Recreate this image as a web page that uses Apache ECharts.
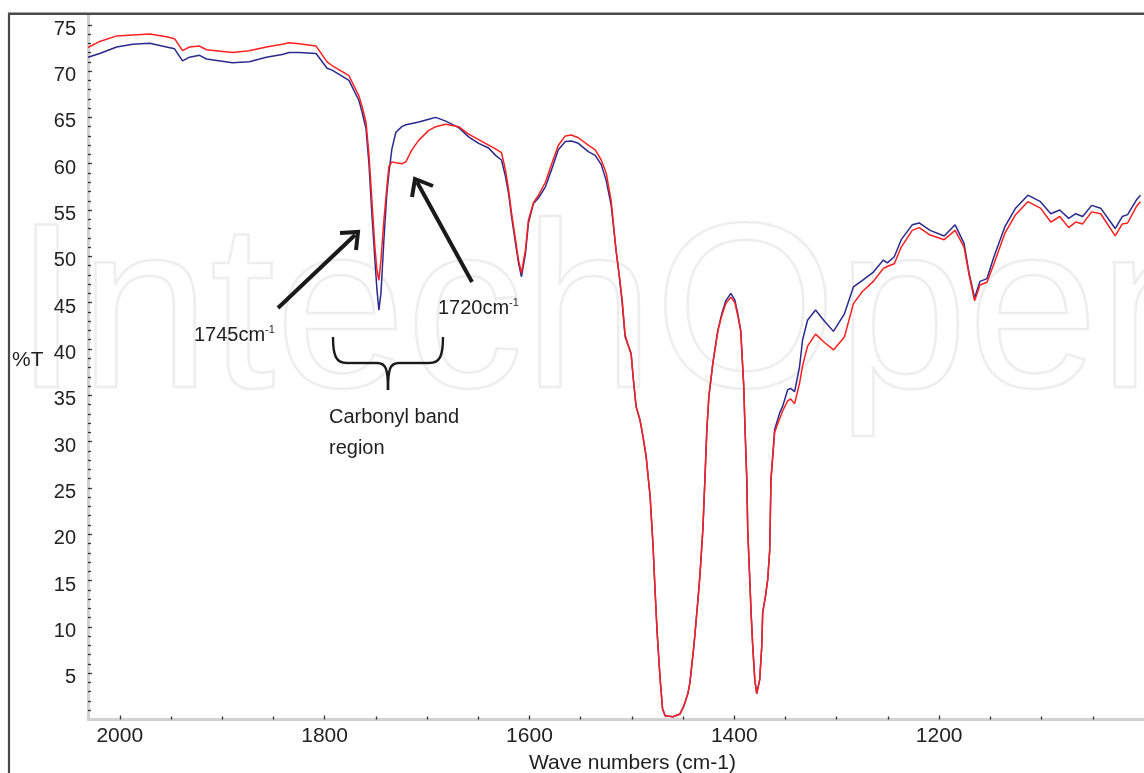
<!DOCTYPE html>
<html>
<head>
<meta charset="utf-8">
<script src="https://cdn.jsdelivr.net/npm/echarts@6/dist/echarts.min.js"></script>
<style>
html,body{margin:0;padding:0;background:#fff;}
#c{width:1144px;height:773px;}
</style>
</head>
<body>
<div id="c"></div>
<script>
// Wave numbers (cm-1), descending
const wavenumbers = [
 2031,2019.5,2003,1987.3,1970.8,1954.3,1946.5,1938.7,1931.9,1922.1,1915.3,1890,1873.5,1856.9,1841.4,1834.6,1824.8,1808.3,1797.6,1792.7,
 1776.2,1766.4,1763.5,1759.6,1756.7,1753.8,1750.9,1748.9,1747.0,1745.0,1742.1,1739.2,1737.2,1734.3,1730.4,1724.6,1720.7,1714.8,1708.0,1698.3,
 1691.5,1681.7,1669.1,1659.4,1649.6,1639.9,1633.1,1627.3,1623.4,1620.4,1617.5,1613.6,1610.7,1607.8,1603.9,1601.0,1596.1,1591.2,1584.4,1578.6,
 1571.8,1565.0,1559.1,1552.3,1542.6,1535.8,1529.9,1525.1,1520.2,1515.3,1512.4,1509.5,1506.6,1503.6,1500.7,1498.8,1495.9,1492.0,1489.1,1486.1,
 1482.2,1479.3,1477.4,1475.4,1472.5,1470.1,1467.6,1459.9,1453.0,1449.1,1445.3,1443.3,1439.4,1435.5,1433.6,1430.7,1428.7,1426.8,1424.8,1420.9,
 1416.1,1412.2,1408.3,1403.4,1399.5,1396.6,1393.7,1390.8,1389.5,1387.8,1386.9,1384.9,1383.6,1382.0,1380.0,1378.1,1375.2,1373.2,1372.3,1369.3,
 1367.4,1365.4,1364.2,1360.6,1355.7,1352.8,1347.9,1345.0,1341.1,1336.3,1333.3,1328.5,1320.7,1311.9,1303.2,1292.5,1283.7,1274.9,1264.2,1254.5,
 1250.6,1243.8,1237.0,1226.3,1219.5,1208.8,1195.1,1184.4,1175.7,1170.8,1165.4,1160.1,1153.3,1146.5,1135.8,1125.4,1113.4,1101.1,1091.0,1082.2,
 1073.5,1066.7,1059.9,1051.1,1042.3,1028.1,1021.2,1016.0,1007.3,1003.4
];
// %T, blue trace
const sampleBlue = [
 71.5,71.9,72.6,72.9,73.0,72.6,72.4,71.1,71.5,71.7,71.3,70.9,71.0,71.5,71.8,72.0,72.0,71.9,70.3,70.1,
 69.0,66.8,65.6,63.8,60.0,54.5,49.6,46.4,44.2,46.0,51.8,56.8,59.0,61.6,63.4,64.0,64.2,64.35,64.5,64.8,
 65.0,64.6,63.9,62.9,62.2,61.7,60.9,60.4,58.6,56.8,54.3,51.4,49.3,47.8,50.3,53.6,55.7,56.3,57.5,59.3,
 61.5,62.4,62.45,62.2,61.3,60.9,59.9,58.2,55.5,50.5,48.0,45.0,41.3,40.4,39.5,37.0,33.8,32.3,30.5,28.4,
 24.1,18.7,14.0,9.5,4.5,1.2,0.4,0.3,0.6,1.5,2.8,4.0,8.0,12.9,15.5,20.5,25.9,31.3,34.9,38.5,
 42.0,43.8,45.2,46.0,45.3,43.8,42.0,36.0,31.3,25.9,20.5,15.1,11.5,7.9,4.3,2.8,4.3,7.9,11.5,13.5,
 15.1,18.3,25.9,31.3,33.1,33.8,35.6,35.75,35.4,38.1,41.0,43.1,44.2,43.0,41.9,43.8,46.7,47.4,48.3,49.6,
 49.3,49.95,51.8,53.4,53.6,52.8,52.2,53.4,51.4,48.2,45.5,47.3,47.6,49.96,53.2,55.2,56.6,55.9,54.6,55.0,
 54.1,54.6,54.3,55.5,55.2,53.0,54.3,54.5,56.1,56.6
];
// %T, red trace
const sampleRed = [
 72.55,73.2,73.8,73.9,74.0,73.7,73.5,72.2,72.6,72.7,72.3,72.0,72.2,72.6,72.9,73.05,72.95,72.7,71.0,70.6,
 69.5,67.3,66.2,64.5,61.0,56.0,51.0,48.5,47.4,49.6,53.9,57.5,59.7,60.2,60.1,60.0,60.2,61.5,62.55,63.6,
 64.0,64.25,64.0,63.2,62.6,62.0,61.6,61.2,59.3,57.2,54.7,51.8,49.6,48.2,50.7,53.9,55.8,56.6,58.0,59.9,
 62.0,63.0,63.1,62.8,62.0,61.5,60.4,59.0,56.0,50.5,48.0,45.3,41.5,40.4,39.4,37.0,33.8,32.3,30.5,28.4,
 24.1,18.7,14.0,9.5,4.5,1.2,0.4,0.3,0.6,1.5,2.8,4.0,8.0,12.9,15.5,20.5,25.9,31.3,34.9,38.5,
 41.9,43.6,44.9,45.6,45.0,43.6,41.9,36.0,31.3,25.9,20.5,15.1,11.5,7.9,4.3,2.8,4.3,7.9,11.5,13.5,
 15.1,18.3,25.9,31.0,32.5,33.3,34.4,34.6,34.1,36.3,38.2,40.3,41.6,40.7,39.9,41.3,44.9,46.2,47.3,48.7,
 48.9,49.2,51.0,52.8,53.1,52.3,51.8,52.8,51.0,48.0,45.2,46.9,47.2,49.2,52.5,54.5,55.9,55.2,53.7,54.3,
 53.1,53.7,53.5,54.8,54.6,52.2,53.5,53.6,55.4,55.9
];
const xTickLabels = [2000, 1800, 1600, 1400, 1200];
const yTickLabels = [5, 10, 15, 20, 25, 30, 35, 40, 45, 50, 55, 60, 65, 70, 75];

const FONT = '"Liberation Sans", Arial, Helvetica, sans-serif';
const chart = echarts.init(document.getElementById('c'), null, {renderer: 'canvas', width: 1144, height: 773});

function txt(x, y, s, size, extra) {
  return Object.assign({
    type: 'text', z: 50,
    style: {
      x: x, y: y, text: s, fill: '#1e1e1e',
      font: 'normal ' + size + 'px ' + FONT,
      fontSize: size, fontFamily: FONT,
      align: 'left', textAlign: 'left',
      verticalAlign: 'middle', textVerticalAlign: 'middle'
    }
  }, extra || {});
}
function seg(x1, y1, x2, y2, w) {
  return {type: 'line', z: 50, shape: {x1, y1, x2, y2}, style: {stroke: '#1a1a1a', lineWidth: w}};
}
function bez(x1, y1, cpx1, cpy1, cpx2, cpy2, x2, y2) {
  return {type: 'bezierCurve', z: 50, shape: {x1, y1, cpx1, cpy1, cpx2, cpy2, x2, y2},
          style: {stroke: '#1a1a1a', lineWidth: 2.4, fill: null}};
}
function head(pts) {
  return {type: 'polyline', z: 50, shape: {points: pts},
          style: {stroke: '#1a1a1a', lineWidth: 4, lineJoin: 'miter', fill: null}};
}

const option = {
  animation: false,
  backgroundColor: '#ffffff',
  grid: {left: 88, right: -3.5, top: 15.5, bottom: 53.5, containLabel: false},
  xAxis: {
    type: 'value', inverse: true, min: 1000, max: 2031, interval: 200,
    axisLine: {show: true, onZero: false, lineStyle: {color: '#d2d2d2', width: 3}},
    axisTick: {show: true, inside: true, length: 4, customValues: xTickLabels,
               lineStyle: {color: '#333', width: 1.3}},
    minorTick: {show: true, splitNumber: 4, length: 3, lineStyle: {color: '#333', width: 1.3}},
    axisLabel: {customValues: xTickLabels, fontSize: 21, fontFamily: FONT, color: '#222', margin: 6,
                formatter: v => (xTickLabels.indexOf(v) >= 0 ? String(v) : '')},
    splitLine: {show: false}
  },
  yAxis: {
    type: 'value', min: 0, max: 76, interval: 5,
    axisLine: {show: true, onZero: false, lineStyle: {color: '#d2d2d2', width: 3}},
    axisTick: {show: true, inside: true, length: 4, customValues: yTickLabels,
               lineStyle: {color: '#333', width: 1.3}},
    minorTick: {show: true, splitNumber: 5, length: 3, lineStyle: {color: '#333', width: 1.3}},
    axisLabel: {customValues: yTickLabels, fontSize: 20, fontFamily: FONT, color: '#222', margin: 12,
                verticalAlign: 'top', lineHeight: 9,
                formatter: v => (yTickLabels.indexOf(v) >= 0 ? String(v) : '')},
    splitLine: {show: false}
  },
  series: [
    {type: 'line', name: 'blue', data: wavenumbers.map((w, i) => [w, sampleBlue[i]]),
     symbol: 'none', showSymbol: false, z: 3, lineStyle: {color: '#2a2a8e', width: 1.5}},
    {type: 'line', name: 'red', data: wavenumbers.map((w, i) => [w, sampleRed[i]]),
     symbol: 'none', showSymbol: false, z: 4, lineStyle: {color: '#ff1f1f', width: 1.5}}
  ],
  graphic: [
    // watermark
    {type: 'text', z: 0, silent: true,
     style: {x: 14, y: 322, text: 'IntechOpen', fill: 'rgba(0,0,0,0)', stroke: '#eeeeee', lineWidth: 2.5,
             font: 'normal 235px ' + FONT, fontSize: 235, fontFamily: FONT,
             align: 'left', textAlign: 'left', verticalAlign: 'middle', textVerticalAlign: 'middle'}},
    // frame
    {type: 'line', z: 60, shape: {x1: 8, y1: 13.8, x2: 1144, y2: 13.8}, style: {stroke: '#4a4a4a', lineWidth: 2.4}},
    {type: 'line', z: 60, shape: {x1: 9, y1: 13, x2: 9, y2: 773}, style: {stroke: '#4a4a4a', lineWidth: 2.2}},
    // axis names
    txt(12, 360, '%T', 21),
    txt(529, 763, 'Wave numbers (cm-1)', 21),
    // arrows
    seg(278, 308, 355, 235, 4),
    head([[340, 233], [358, 232], [356, 250]]),
    seg(472, 282, 417, 182, 4),
    head([[433, 186], [415, 179], [412, 197]]),
    // labels
    txt(194, 335, '1745cm', 20),
    txt(265, 330, '-1', 11),
    txt(438, 308, '1720cm', 20),
    txt(509, 303, '-1', 11),
    // brace
    bez(333, 337, 333, 356, 336, 363, 347, 363),
    seg(347, 363, 377, 363, 2.4),
    bez(377, 363, 386, 363, 388, 369, 388, 390),
    bez(443, 337, 443, 356, 440, 363, 429, 363),
    seg(429, 363, 399, 363, 2.4),
    bez(399, 363, 390, 363, 388, 369, 388, 390),
    txt(329, 417, 'Carbonyl band', 20),
    txt(329, 448, 'region', 20)
  ]
};
chart.setOption(option);
</script>
</body>
</html>
